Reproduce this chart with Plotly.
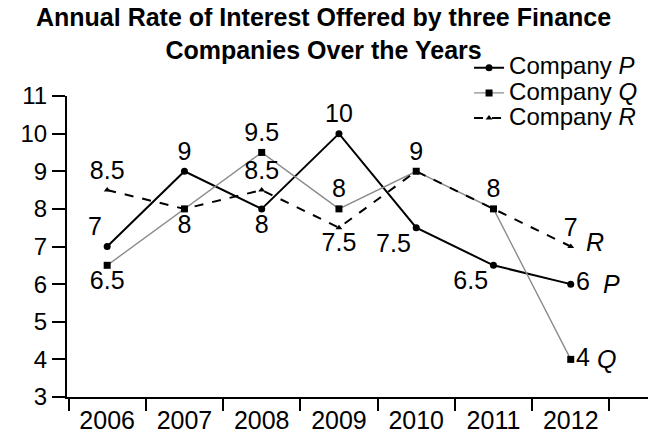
import plotly.graph_objects as go

# Data
years = ['2006', '2007', '2008', '2009', '2010', '2011', '2012']
company_p = [7, 9, 8, 10, 7.5, 6.5, 6]
company_q = [6.5, 8, 9.5, 8, 9, 8, 4]
company_r = [8.5, 8, 8.5, 7.5, 9, 8, 7]
y_ticks = [3, 4, 5, 6, 7, 8, 9, 10, 11]
title_lines = ['Annual Rate of Interest Offered by three Finance', 'Companies Over the Years']

FONT = 'Liberation Sans, Arial, sans-serif'
LBL = dict(size=25, color='black', family=FONT)

def labels(vals, hide=()):
    return ['' if i in hide else f'{v:g}' for i, v in enumerate(vals)]

def legend_name(letter):
    return f'<span style="font-size:24px">Company <i>{letter}</i></span>'

fig = go.Figure()

fig.add_trace(go.Scatter(
    x=years, y=company_p, name=legend_name('P'),
    mode='lines+markers+text',
    line=dict(color='black', width=2),
    marker=dict(symbol='circle', size=7, color='black'),
    text=labels(company_p),
    textposition=['top left', 'top center', 'bottom center', 'top center',
                  'bottom left', 'bottom left', 'middle right'],
    textfont=LBL,
))

fig.add_trace(go.Scatter(
    x=years, y=company_q, name=legend_name('Q'),
    mode='lines+markers+text',
    line=dict(color='#8c8c8c', width=1.4),
    marker=dict(symbol='square', size=7, color='black'),
    text=labels(company_q),
    textposition=['bottom center', 'bottom center', 'top center', 'top center',
                  'top center', 'top center', 'middle right'],
    textfont=LBL,
))

fig.add_trace(go.Scatter(
    x=years, y=company_r, name=legend_name('R'),
    mode='lines+markers+text',
    line=dict(color='black', width=2, dash='dash'),
    marker=dict(symbol='triangle-up', size=6, color='black'),
    text=labels(company_r, hide=(1, 4, 5)),
    textposition=['top center', 'top center', 'top center', 'bottom center',
                  'top center', 'top center', 'top center'],
    textfont=LBL,
))

# series letters at the right end of each line
last = len(years) - 1
for name, vals, dx, dy in [('P', company_p, 41, 0), ('Q', company_q, 36, 0), ('R', company_r, 24, 5)]:
    fig.add_annotation(x=last, y=vals[-1], xref='x', yref='y', text=f'<i>{name}</i>',
                       showarrow=False, xshift=dx, yshift=dy, font=LBL)

# two-line bold title
fig.add_annotation(x=0.441, y=1.206, xref='paper', yref='paper',
                   text='<br>'.join(f'<b>{line}</b>' for line in title_lines),
                   showarrow=False, xanchor='center', yanchor='middle', borderpad=0,
                   font=dict(size=25, color='black', family=FONT))

fig.update_layout(
    width=657, height=438,
    margin=dict(l=56, r=17, t=88, b=47),
    plot_bgcolor='white', paper_bgcolor='white',
    legend=dict(x=0.692, y=1.152, xanchor='left', yanchor='top',
                font=dict(size=17, color='black', family=FONT),
                itemwidth=30, bgcolor='rgba(0,0,0,0)'),
    font=dict(family=FONT, color='black'),
)

fig.update_xaxes(type='category', range=[-0.52, 7.0], tickson='boundaries',
                 showline=True, linecolor='black', linewidth=2,
                 ticks='outside', ticklen=12, tickwidth=2, tickcolor='black',
                 showgrid=False, zeroline=False,
                 tickfont=dict(size=25, color='black', family=FONT))
fig.update_yaxes(range=[3, 11], tickvals=y_ticks,
                 showline=True, linecolor='black', linewidth=2,
                 ticks='outside', ticklen=13, tickwidth=2, tickcolor='black',
                 showgrid=False, zeroline=False,
                 tickfont=dict(size=24, color='black', family=FONT))

fig.write_html('out.html')
